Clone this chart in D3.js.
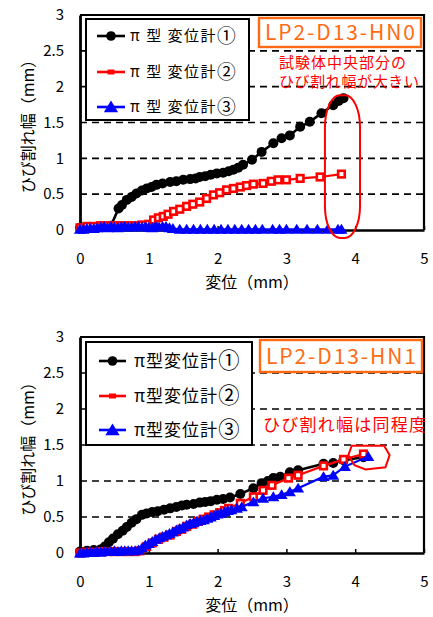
<!DOCTYPE html>
<html><head><meta charset="utf-8">
<script src="https://cdn.jsdelivr.net/npm/d3@7"></script>
<style>
body{margin:0;background:#fff}
svg{display:block}
text{font-family:"Noto Sans CJK JP","Noto Sans",sans-serif}
</style>
</head><body>
<svg id="c" width="433" height="617"></svg>
<script>
// ---------- data ----------
const xTicks = [0, 1, 2, 3, 4, 5];
const yTicks = [0, 0.5, 1, 1.5, 2, 2.5, 3];
const yTickLabels = ["0", "0.5", "1", "1.5", "2", "2.5", "3"];
const gridValues = [0.5, 1, 1.5, 2, 2.5];
const xTitle = "変位（mm）";
const yTitle = "ひび割れ幅（mm）";

// chart 1 (HN0)
const c1Label = "LP2-D13-HN0";
const c1Legend = ["π 型 変位計①", "π 型 変位計②", "π 型 変位計③"];
const c1Note = ["試験体中央部分の", "ひび割れ幅が大きい"];
const c1s1X = [0, 0.15, 0.3, 0.45, 0.56, 0.61, 0.68, 0.75, 0.82, 0.9, 0.97, 1.04, 1.11, 1.2, 1.31, 1.4, 1.5, 1.6, 1.68, 1.74, 1.82, 1.9, 1.99, 2.08, 2.16, 2.23, 2.3, 2.37, 2.5, 2.64, 2.81, 2.93, 3.05, 3.2, 3.34, 3.51, 3.68, 3.76, 3.83];
const c1s1Y = [0.03, 0.04, 0.05, 0.06, 0.30, 0.35, 0.42, 0.46, 0.51, 0.55, 0.58, 0.60, 0.63, 0.65, 0.67, 0.68, 0.70, 0.71, 0.72, 0.74, 0.75, 0.77, 0.79, 0.80, 0.82, 0.84, 0.87, 0.91, 0.98, 1.09, 1.21, 1.28, 1.32, 1.44, 1.51, 1.63, 1.74, 1.80, 1.84];
const c1s2X = [0, 0.1, 0.2, 0.3, 0.4, 0.5, 0.6, 0.7, 0.8, 0.9, 1.0, 1.07, 1.14, 1.21, 1.28, 1.36, 1.45, 1.55, 1.64, 1.74, 1.84, 1.94, 2.03, 2.13, 2.23, 2.33, 2.42, 2.52, 2.66, 2.78, 2.88, 3.0, 3.2, 3.49, 3.8];
const c1s2Y = [0.03, 0.05, 0.05, 0.06, 0.06, 0.06, 0.06, 0.06, 0.06, 0.07, 0.08, 0.14, 0.17, 0.19, 0.22, 0.26, 0.29, 0.33, 0.36, 0.39, 0.44, 0.49, 0.52, 0.56, 0.58, 0.60, 0.62, 0.64, 0.65, 0.68, 0.70, 0.70, 0.72, 0.74, 0.78];
const c1s3X = [0, 0.05, 0.1, 0.15, 0.2, 0.25, 0.3, 0.35, 0.4, 0.45, 0.5, 0.55, 0.6, 0.65, 0.7, 0.75, 0.8, 0.85, 0.9, 0.95, 1.0, 1.05, 1.1, 1.15, 1.2, 1.25, 1.3, 1.35, 1.45, 1.55, 1.65, 1.75, 1.85, 1.95, 2.05, 2.15, 2.25, 2.35, 2.45, 2.55, 2.65, 2.8, 2.9, 3.0, 3.15, 3.3, 3.45, 3.6, 3.75, 3.8];
const c1s3Y = [0.01, 0.01, 0.02, 0.02, 0.02, 0.03, 0.04, 0.05, 0.03, 0.05, 0.04, 0.03, 0.05, 0.05, 0.04, 0.04, 0.05, 0.05, 0.04, 0.05, 0.04, 0.03, 0.05, 0.04, 0.05, 0.05, 0.03, 0.02, 0.01, 0.01, 0.01, 0.01, 0.01, 0.01, 0.01, 0.01, 0.01, 0.01, 0.01, 0.01, 0.01, 0.01, 0.01, 0.01, 0.01, 0.01, 0.01, 0.01, 0.01, 0.01];

// chart 2 (HN1)
const c2Label = "LP2-D13-HN1";
const c2Legend = ["π型変位計①", "π型変位計②", "π型変位計③"];
const c2Note = ["ひび割れ幅は同程度"];
const c2s1X = [0, 0.1, 0.2, 0.3, 0.36, 0.42, 0.48, 0.55, 0.62, 0.68, 0.75, 0.82, 0.9, 0.97, 1.05, 1.13, 1.22, 1.31, 1.4, 1.48, 1.55, 1.65, 1.74, 1.82, 1.9, 1.99, 2.08, 2.18, 2.33, 2.52, 2.64, 2.73, 2.81, 2.91, 3.05, 3.17, 3.54, 3.68, 3.83, 4.12];
const c2s1Y = [0.02, 0.03, 0.04, 0.05, 0.09, 0.15, 0.2, 0.26, 0.31, 0.36, 0.42, 0.47, 0.53, 0.55, 0.57, 0.58, 0.6, 0.62, 0.64, 0.66, 0.67, 0.68, 0.70, 0.71, 0.72, 0.74, 0.75, 0.77, 0.82, 0.90, 0.97, 1.0, 1.04, 1.06, 1.12, 1.15, 1.24, 1.25, 1.29, 1.33];
const c2s2X = [0, 0.1, 0.2, 0.3, 0.4, 0.5, 0.6, 0.7, 0.8, 0.87, 0.97, 1.05, 1.14, 1.22, 1.31, 1.4, 1.48, 1.55, 1.64, 1.72, 1.79, 1.87, 1.95, 2.03, 2.1, 2.16, 2.33, 2.52, 2.66, 2.79, 3.03, 3.17, 3.54, 3.83, 4.12];
const c2s2Y = [0.0, 0.01, 0.01, 0.02, 0.02, 0.02, 0.02, 0.02, 0.02, 0.03, 0.09, 0.14, 0.19, 0.22, 0.25, 0.30, 0.33, 0.37, 0.40, 0.44, 0.47, 0.50, 0.53, 0.56, 0.59, 0.62, 0.69, 0.78, 0.87, 0.94, 1.04, 1.08, 1.21, 1.30, 1.375];
const c2s3X = [0, 0.05, 0.1, 0.15, 0.2, 0.25, 0.3, 0.35, 0.4, 0.45, 0.5, 0.55, 0.6, 0.65, 0.7, 0.75, 0.8, 0.85, 0.9, 0.95, 1.0, 1.05, 1.1, 1.15, 1.2, 1.25, 1.3, 1.35, 1.4, 1.45, 1.5, 1.55, 1.6, 1.65, 1.7, 1.75, 1.8, 1.85, 1.9, 1.95, 2.0, 2.05, 2.1, 2.15, 2.2, 2.28, 2.35, 2.52, 2.66, 2.81, 2.93, 3.05, 3.17, 3.54, 3.68, 3.85, 4.19];
const c2s3Y = [0, 0, 0.01, 0.01, 0.01, 0.02, 0.01, 0.02, 0.02, 0.02, 0.03, 0.02, 0.03, 0.03, 0.03, 0.03, 0.03, 0.04, 0.07, 0.11, 0.13, 0.16, 0.19, 0.21, 0.23, 0.25, 0.27, 0.29, 0.32, 0.34, 0.36, 0.39, 0.41, 0.42, 0.44, 0.45, 0.46, 0.48, 0.50, 0.52, 0.54, 0.55, 0.57, 0.59, 0.60, 0.62, 0.64, 0.71, 0.76, 0.78, 0.81, 0.85, 0.90, 1.06, 1.08, 1.20, 1.34];

// ---------- styles ----------
const colors = ["#000000", "#FF0000", "#0000FF"];
const orange = "#FF6A13";
const svg = d3.select("#c");

function marker(sel, kind, color, legend) {
  if (kind === 0) {
    sel.append("circle").attr("r", legend ? 4.8 : 5).attr("fill", color);
  } else if (kind === 1) {
    if (legend) sel.append("rect").attr("x", -3.5).attr("y", -2.5).attr("width", 7).attr("height", 5).attr("fill", color);
    else sel.append("rect").attr("x", -3.3).attr("y", -3.3).attr("width", 6.6).attr("height", 6.6).attr("fill", "#fff").attr("stroke", color).attr("stroke-width", 2.6);
  } else {
    const s = legend ? 6.5 : 5.5;
    sel.append("path").attr("d", `M0,${-s}L${s * 1.1},${s * 0.8}L${-s * 1.1},${s * 0.8}Z`).attr("fill", color);
  }
}

function drawChart(cfg) {
  const x = d3.scaleLinear().domain([0, 5]).range([80, 424]);
  const y = d3.scaleLinear().domain([0, 3]).range([cfg.y0, cfg.y3]);
  const g = svg.append("g");

  // gridlines
  g.selectAll("line.grid").data(gridValues).join("line")
    .attr("x1", x(0)).attr("x2", x(5))
    .attr("y1", d => y(d)).attr("y2", d => y(d))
    .attr("stroke", "#000").attr("stroke-width", 1.6).attr("stroke-dasharray", "7,5");

  // frame top/right
  g.append("path").attr("d", `M${x(0)},${y(3)}H${x(5)}V${y(0)}`)
    .attr("fill", "none").attr("stroke", "#000").attr("stroke-width", 2.2);

  // x axis
  const xa = g.append("g").attr("transform", `translate(0,${y(0)})`)
    .call(d3.axisBottom(x).tickValues(xTicks).tickFormat(d3.format("d")).tickSizeInner(-4).tickSizeOuter(0).tickPadding(23));
  xa.select(".domain").attr("stroke-width", 2.5);
  xa.selectAll(".tick line").attr("stroke-width", 1.5);
  xa.selectAll("text").attr("font-size", 15).attr("fill", "#000");

  // y axis
  const ya = g.append("g").attr("transform", `translate(${x(0)},0)`)
    .call(d3.axisLeft(y).tickValues(yTicks).tickFormat((d, i) => yTickLabels[i]).tickSize(0).tickPadding(16));
  ya.select(".domain").attr("stroke-width", 2.8);
  ya.selectAll("text").attr("font-size", 15).attr("fill", "#000");

  // titles
  g.append("text").attr("x", (x(0) + x(5)) / 2).attr("y", y(0) + 58)
    .attr("text-anchor", "middle").attr("font-size", 16).text(xTitle);
  g.append("text").attr("transform", `translate(34,${(y(0) + y(3)) / 2}) rotate(-90)`)
    .attr("text-anchor", "middle").attr("font-size", 16).text(yTitle);

  // series
  const line = d3.line().x(d => x(d[0])).y(d => y(d[1]));
  cfg.series.forEach((s, i) => {
    const pts = s.xs.map((v, k) => [v, s.ys[k]]);
    g.append("path").datum(pts).attr("d", line).attr("fill", "none")
      .attr("stroke", colors[i]).attr("stroke-width", i === 0 ? 2.6 : 2.2);
    g.selectAll(null).data(pts).join("g")
      .attr("transform", d => `translate(${x(d[0])},${y(d[1])})`)
      .each(function () { marker(d3.select(this), i, colors[i], false); });
  });

  // legend
  const L = cfg.legend;
  g.append("rect").attr("x", L.x).attr("y", L.y).attr("width", L.w).attr("height", L.h)
    .attr("fill", "#fff").attr("stroke", "#000").attr("stroke-width", 2);
  cfg.legendNames.forEach((name, i) => {
    const ry = L.rows[i];
    g.append("line").attr("x1", L.lx0).attr("x2", L.lx1).attr("y1", ry).attr("y2", ry)
      .attr("stroke", colors[i]).attr("stroke-width", 2.6);
    const m = g.append("g").attr("transform", `translate(${(L.lx0 + L.lx1) / 2},${ry})`);
    marker(m, i, colors[i], true);
    const t = g.append("text").attr("x", L.tx).attr("y", ry).attr("dy", "0.36em")
      .attr("font-size", L.fs).attr("letter-spacing", L.ls);
    t.append("tspan").text(name.slice(0, -1));
    t.append("tspan").attr("font-size", L.fs * 1.25).attr("dy", "0.06em").text(name.slice(-1));
  });

  // label box
  const B = cfg.box;
  g.append("rect").attr("x", B.x).attr("y", B.y).attr("width", B.w).attr("height", B.h)
    .attr("fill", "#fff").attr("stroke", orange).attr("stroke-width", 2.4);
  g.append("text").attr("x", B.x + 6).attr("y", B.y + B.h / 2).attr("dy", "0.36em")
    .attr("font-size", 21).attr("fill", orange)
    .attr("textLength", B.w - 12).attr("lengthAdjust", "spacing").text(cfg.label);

  // notes
  cfg.notes.forEach((n, i) => {
    g.append("text").attr("x", cfg.noteX).attr("y", cfg.noteY[i]).attr("dy", "0.36em")
      .attr("font-size", cfg.noteFs).attr("fill", "#FF0000")
      .attr("textLength", cfg.noteW[i]).attr("lengthAdjust", "spacing").text(n);
  });

  cfg.extra(g, x, y);
}

drawChart({
  y0: 230, y3: 15,
  series: [{ xs: c1s1X, ys: c1s1Y }, { xs: c1s2X, ys: c1s2Y }, { xs: c1s3X, ys: c1s3Y }],
  legendNames: c1Legend,
  legend: { x: 86, y: 19, w: 163, h: 101, rows: [36, 72, 107], lx0: 97, lx1: 125, tx: 130, fs: 15, ls: 1.5 },
  box: { x: 259, y: 18, w: 162, h: 29 },
  label: c1Label,
  notes: c1Note, noteX: 279, noteY: [63, 82], noteW: [127, 140], noteFs: 15,
  extra: (g, x, y) => {
    g.append("rect").attr("x", x(3.56)).attr("y", y(1.88))
      .attr("width", x(4.07) - x(3.56)).attr("height", y(-0.11) - y(1.88))
      .attr("rx", 15).attr("ry", 32)
      .attr("fill", "none").attr("stroke", "#FF0000").attr("stroke-width", 2);
  }
});

drawChart({
  y0: 553, y3: 337,
  series: [{ xs: c2s1X, ys: c2s1Y }, { xs: c2s2X, ys: c2s2Y }, { xs: c2s3X, ys: c2s3Y }],
  legendNames: c2Legend,
  legend: { x: 86, y: 342, w: 166, h: 103, rows: [361, 396, 430], lx0: 99, lx1: 126, tx: 134, fs: 17, ls: 1 },
  box: { x: 260, y: 340, w: 162, h: 32 },
  label: c2Label,
  notes: c2Note, noteX: 263, noteY: [425], noteW: [163], noteFs: 17,
  extra: (g, x, y) => {
    const p = [[3.95, 1.49], [4.42, 1.49], [4.5, 1.36], [4.44, 1.19], [4.15, 1.16], [3.99, 1.22], [3.9, 1.36]];
    g.append("path").attr("d", "M" + p.map(d => `${x(d[0])},${y(d[1])}`).join("L") + "Z")
      .attr("fill", "none").attr("stroke", "#FF0000").attr("stroke-width", 2);
  }
});
</script>
</body></html>
